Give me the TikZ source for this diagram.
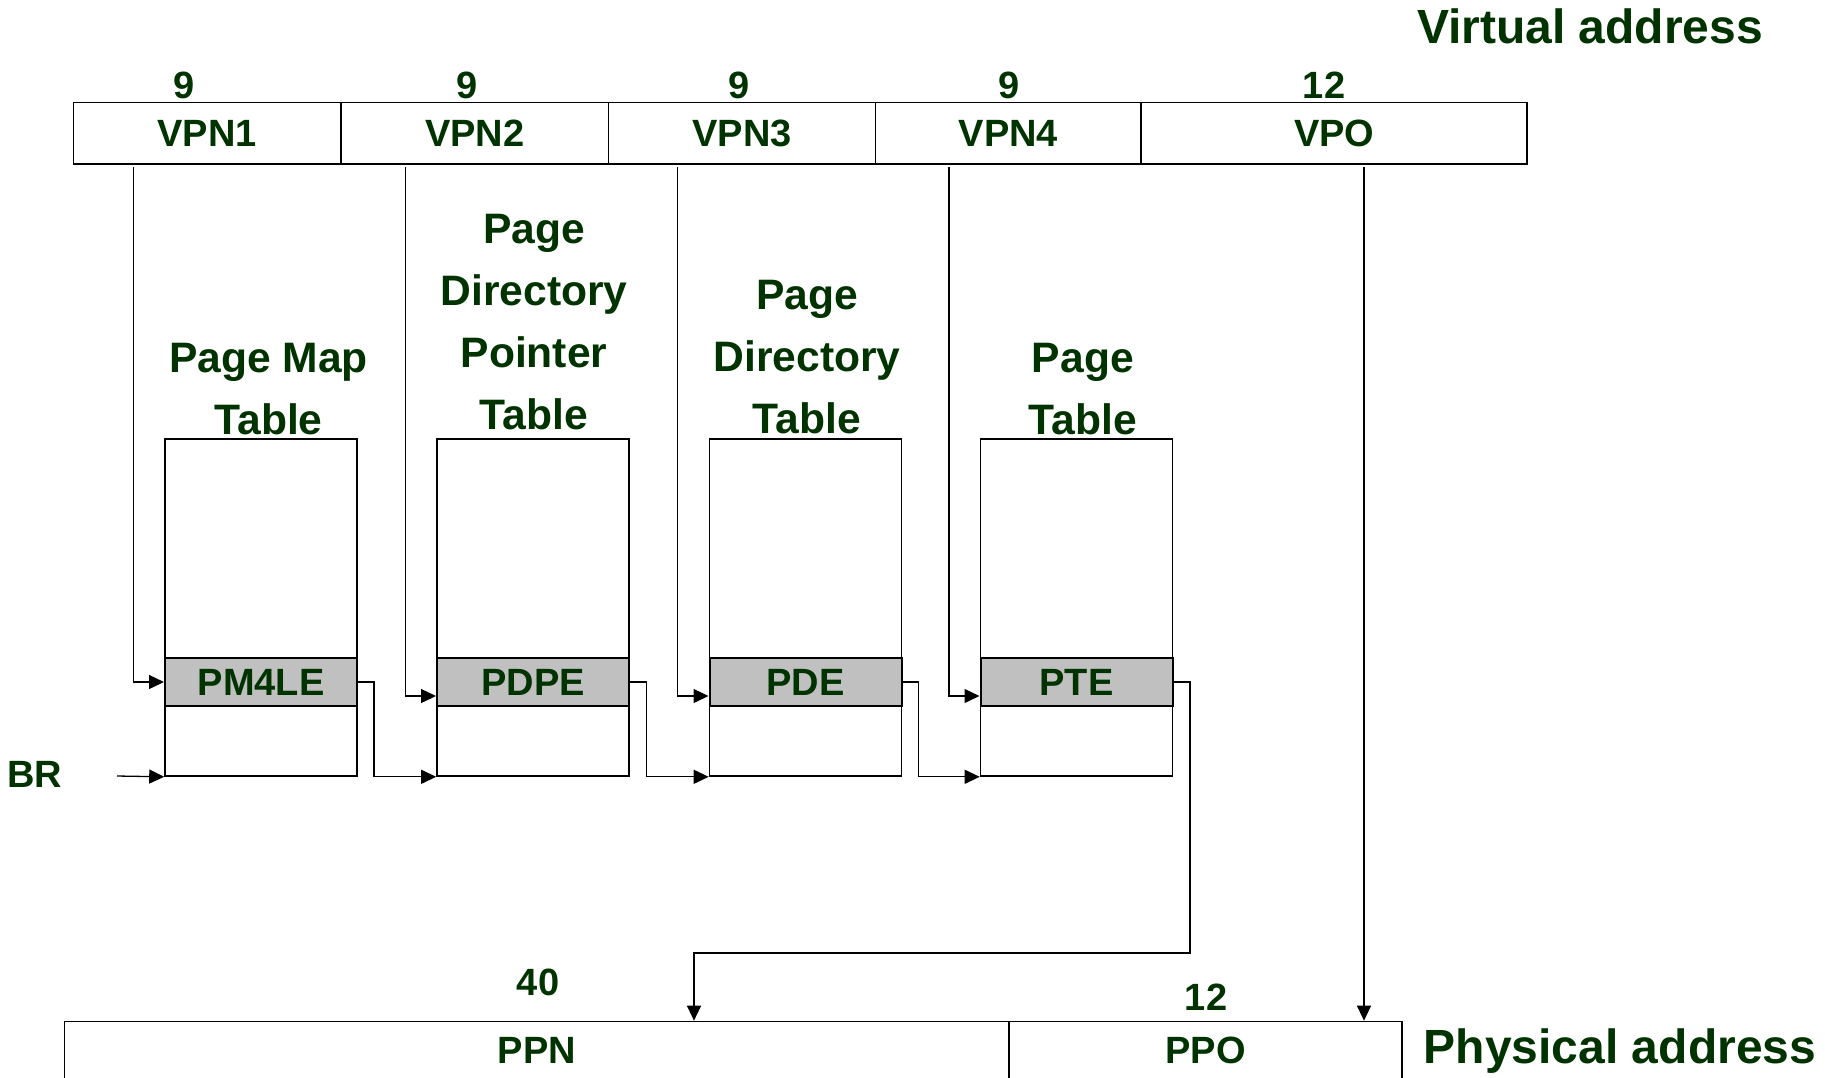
\documentclass[tikz,border=0pt]{standalone}
\usepackage{fontspec}
\setmainfont{Liberation Sans}
\usetikzlibrary{arrows.meta}
\definecolor{tg}{RGB}{0,51,0}
\definecolor{entrygray}{RGB}{192,192,192}
\tikzset{
  lbl/.style={font=\fontsize{38}{44}\selectfont\bfseries, text=tg, inner sep=0pt},
  cell/.style={lbl, draw=black, line width=1.5pt, minimum height=61.4pt},
  title/.style={font=\fontsize{42.6}{62}\selectfont\bfseries, text=tg, inner sep=0pt, align=center},
  addr/.style={font=\fontsize{48}{54}\selectfont\bfseries, text=tg, inner sep=0pt},
  tbl/.style={draw=black, line width=1.6pt, minimum width=192pt, minimum height=337pt, inner sep=0pt},
  entry/.style={lbl, draw=black, fill=entrygray, line width=2pt, minimum width=192pt, minimum height=48pt},
  conn/.style={draw=black, line width=1.3pt},
  arr/.style={conn, -{Triangle[length=15pt,width=14pt]}}
}
\begin{document}
\begin{tikzpicture}[x=1pt,y=-1pt]
\useasboundingbox (0,0) rectangle (1825,1077);
\clip (0,0) rectangle (1825,1077);

% virtual address
\node[addr, anchor=base] (va) at (1590,43) {Virtual address};
\node[cell, minimum width=267.5pt] (vpn1) at (207.15,133.3) {VPN1};
\node[cell, minimum width=267.6pt] (vpn2) at (474.7,133.3) {VPN2};
\node[cell, minimum width=266.9pt] (vpn3) at (741.95,133.3) {VPN3};
\node[cell, minimum width=265.8pt] (vpn4) at (1008.3,133.3) {VPN4};
\node[cell, minimum width=386pt] (vpo) at (1334.2,133.3) {VPO};
\node[lbl, anchor=base] (n1) at (184,98) {9};
\node[lbl, anchor=base] (n2) at (467,98) {9};
\node[lbl, anchor=base] (n3) at (739,98) {9};
\node[lbl, anchor=base] (n4) at (1008.6,98) {9};
\node[lbl, anchor=base] (n5) at (1324,98) {12};

% table titles
\node[title, anchor=south] (tt1) at (268.5,435) {Page Map\\Table};
\node[title, anchor=south] (tt2) at (534,430) {Page\\Directory\\Pointer\\Table};
\node[title, anchor=south] (tt3) at (807,434) {Page\\Directory\\Table};
\node[title, anchor=south] (tt4) at (1082.8,435) {Page\\Table};

% tables
\node[tbl] (t1) at (261,607.5) {};
\node[tbl] (t2) at (533,607.5) {};
\node[tbl] (t3) at (805.5,607.5) {};
\node[tbl] (t4) at (1076.5,607.5) {};
\node[entry] (g1) at (261,682) {PM4LE};
\node[entry] (g2) at (533,682) {PDPE};
\node[entry] (g3) at (805.5,682) {PDE};
\node[entry] (g4) at (1076.5,682) {PTE};

% base register
\node[lbl, anchor=base] (br) at (35,787) {BR};
\coordinate (brs) at (117,776);
\draw[arr] (brs) -- (t1.south west);

% index lines from the virtual address
\coordinate (s1) at (133.2,167);
\coordinate (s2) at (405.5,167);
\coordinate (s3) at (677.8,167);
\coordinate (s4) at (949,167);
\coordinate (s5) at (1364,167);
\draw[arr] (s1) |- (g1.west);
\draw[arr] (s2) |- ([yshift=-14pt]g2.west);
\draw[arr] (s3) |- ([yshift=-14pt]g3.west);
\draw[arr] (s4) |- ([yshift=-14pt]g4.west);

% entry -> next table base
\draw[arr] (g1.east) -- ++(16,0) |- (t2.south west);
\draw[arr] (g2.east) -- ++(16.5,0) |- (t3.south west);
\draw[arr] (g3.east) -- ++(16,0) |- (t4.south west);

% physical address
\node[cell, minimum width=944.6pt, minimum height=58pt] (ppn) at (536.9,1050.4) {PPN};
\node[cell, minimum width=393pt, minimum height=58pt] (ppo) at (1205.7,1050.4) {PPO};
\node[lbl, anchor=base] (n40) at (538,995) {40};
\node[lbl, anchor=base] (n12) at (1206,1010) {12};
\node[addr, anchor=base] (pa) at (1620,1063.4) {Physical address};

\coordinate (bend) at (694,953);
\draw[arr] (g4.east) -- ++(16.5,0) |- (bend) -- (bend |- ppn.north);
\draw[arr] (s5) -- (s5 |- ppo.north);
\end{tikzpicture}
\end{document}
